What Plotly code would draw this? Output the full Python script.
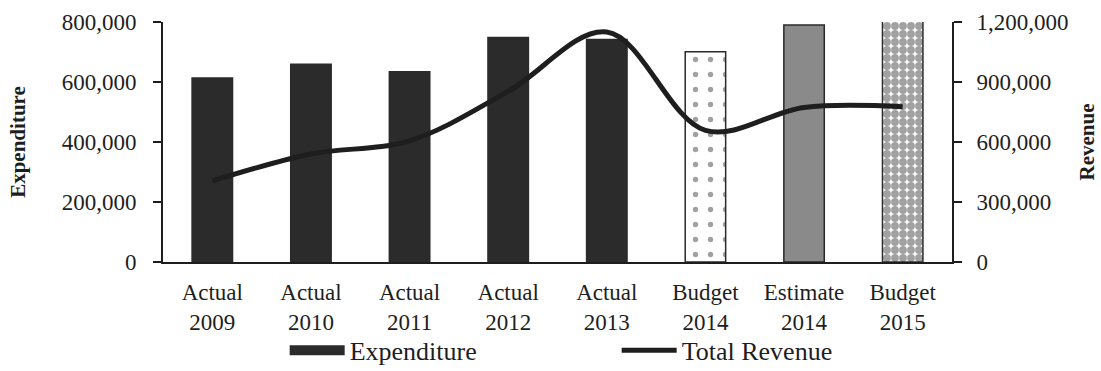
import plotly.graph_objects as go

categories = ["Actual<br>2009", "Actual<br>2010", "Actual<br>2011", "Actual<br>2012",
              "Actual<br>2013", "Budget<br>2014", "Estimate<br>2014", "Budget<br>2015"]
expenditure = [613000, 659000, 634000, 748000, 742000, 701000, 790000, 804000]
total_revenue = [405000, 540000, 606000, 853000, 1150000, 658000, 773000, 776000]

left_ticks = [0, 200000, 400000, 600000, 800000]
right_ticks = [0, 300000, 600000, 900000, 1200000]

bar_colors = ["#2b2b2b"] * 5 + ["#ffffff", "#8a8a8a", "#ffffff"]
pat_shapes = [""] * 5 + [".", "", "."]
pat_fg = ["#2b2b2b"] * 5 + ["#ededed", "#8a8a8a", "#000000"]
pat_bg = ["#2b2b2b"] * 5 + ["#ffffff", "#8a8a8a", "#ffffff"]
pat_size = [8] * 5 + [15, 8, 8]
pat_solid = [0.3] * 5 + [0.1, 0.3, 0.75]

FONT = "Liberation Serif"
INK = "#1e1e1e"

fig = go.Figure()

fig.add_trace(go.Bar(
    x=categories, y=expenditure, name="Expenditure", showlegend=False,
    width=0.41,
    marker=dict(color=bar_colors,
                line=dict(color="#2a2a2a", width=1.5),
                pattern=dict(shape=pat_shapes, fgcolor=pat_fg, bgcolor=pat_bg,
                             size=pat_size, solidity=pat_solid)),
    yaxis="y",
))

# legend stand-in for the bar series
fig.add_trace(go.Scatter(
    x=[None], y=[None], mode="lines", name="Expenditure",
    line=dict(color="#2b2b2b", width=15), yaxis="y",
))

fig.add_trace(go.Scatter(
    x=categories, y=total_revenue, mode="lines", name="Total Revenue",
    line=dict(color=INK, width=5, shape="spline", smoothing=1.0),
    yaxis="y2",
))

fig.update_layout(
    width=1101, height=371,
    margin=dict(l=163, r=149, t=22, b=109, autoexpand=False),
    paper_bgcolor="white", plot_bgcolor="white",
    font=dict(family=FONT, size=23, color=INK),
    showlegend=True,
    legend=dict(orientation="h", x=0.575, xanchor="center", y=-0.27, yanchor="top",
                font=dict(family=FONT, size=26, color=INK),
                itemwidth=55, entrywidth=262, entrywidthmode="pixels",
                tracegroupgap=0, bgcolor="rgba(0,0,0,0)"),
    xaxis=dict(
        range=[-0.5, 7.5], showline=True, linecolor=INK, linewidth=2,
        ticks="", showgrid=False, zeroline=False, automargin=False,
        ticklabelstandoff=8,
        tickfont=dict(family=FONT, size=23, color=INK),
    ),
    yaxis=dict(
        range=[0, 800000], tickvals=left_ticks, tickformat=",",
        showline=True, linecolor=INK, linewidth=2,
        ticks="outside", ticklen=8, tickwidth=2, tickcolor=INK,
        ticklabelstandoff=12, automargin=False,
        showgrid=False, zeroline=False,
        tickfont=dict(family=FONT, size=23, color=INK),
        title=dict(text="<b>Expenditure</b>", font=dict(family=FONT, size=21, color=INK),
                   standoff=30),
    ),
    yaxis2=dict(
        range=[0, 1200000], tickvals=right_ticks, tickformat=",",
        overlaying="y", side="right", anchor="x",
        showline=True, linecolor=INK, linewidth=2,
        ticks="outside", ticklen=8, tickwidth=2, tickcolor=INK,
        ticklabelstandoff=10, automargin=False,
        showgrid=False, zeroline=False,
        tickfont=dict(family=FONT, size=23, color=INK),
        title=dict(text="<b>Revenue</b>", font=dict(family=FONT, size=21, color=INK),
                   standoff=12),
    ),
    yaxis3=dict(
        range=[0, 800000], tickvals=left_ticks, overlaying="y", side="left", anchor="x",
        showticklabels=False, ticks="inside", ticklen=8, tickwidth=2, tickcolor=INK,
        showline=False, showgrid=False, zeroline=False,
    ),
    yaxis4=dict(
        range=[0, 1200000], tickvals=right_ticks, overlaying="y", side="right", anchor="x",
        showticklabels=False, ticks="inside", ticklen=8, tickwidth=2, tickcolor=INK,
        showline=False, showgrid=False, zeroline=False,
    ),
)

fig.write_html("out.html")
